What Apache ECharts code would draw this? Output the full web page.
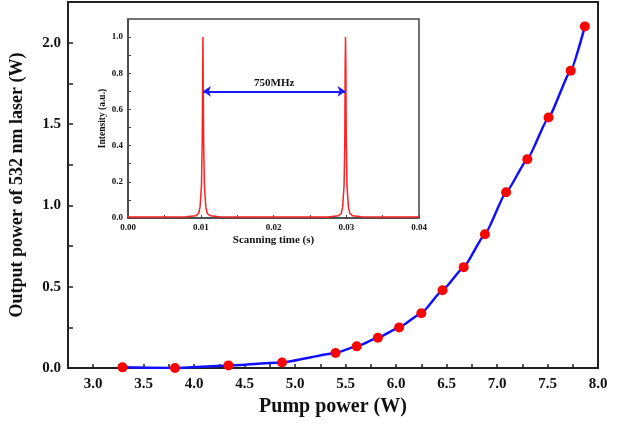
<!DOCTYPE html>
<html>
<head>
<meta charset="utf-8">
<script src="https://cdn.jsdelivr.net/npm/echarts@6/dist/echarts.min.js"></script>
<style>
  html, body { margin: 0; padding: 0; background: #fff; }
  #chart { width: 621px; height: 425px; }
</style>
</head>
<body>
<div id="chart"></div>
<script>
// main plot: pump power vs 532 nm output
const pumpPower = [3.29, 3.81, 4.34, 4.87, 5.40, 5.61, 5.82, 6.03, 6.25, 6.46, 6.67, 6.88, 7.09, 7.30, 7.51, 7.73, 7.87];
const outputPower = [0.004, 0.0, 0.016, 0.034, 0.092, 0.133, 0.186, 0.249, 0.337, 0.478, 0.62, 0.822, 1.08, 1.284, 1.54, 1.828, 2.10];

// inset: scanning F-P trace
const scanTime = [0, 0.004, 0.008, 0.0093, 0.0097, 0.0099, 0.0101, 0.0102, 0.01025, 0.0103, 0.01035, 0.0104, 0.0105, 0.0107, 0.0109, 0.0113, 0.0125, 0.016, 0.02, 0.024, 0.0275, 0.0289, 0.0293, 0.0295, 0.0297, 0.0298, 0.02985, 0.0299, 0.02995, 0.03, 0.0301, 0.0303, 0.0305, 0.0309, 0.032, 0.036, 0.04];
const intensity = [0.006, 0.005, 0.007, 0.012, 0.025, 0.06, 0.18, 0.42, 0.7, 1.0, 0.7, 0.42, 0.18, 0.06, 0.025, 0.012, 0.007, 0.005, 0.006, 0.005, 0.006, 0.012, 0.025, 0.06, 0.18, 0.42, 0.82, 1.0, 0.82, 0.42, 0.18, 0.06, 0.025, 0.012, 0.007, 0.005, 0.006];
const arrowFrom = [0.0103, 0.7];
const arrowTo = [0.0299, 0.7];
const arrowText = '750MHz';

const serif = 'Liberation Serif';
const dark = '#222';

const chart = echarts.init(document.getElementById('chart'));

function half(v) { return Math.abs(v * 2 - Math.round(v * 2)) < 1e-6 ? v.toFixed(1) : ''; }

chart.setOption({
  backgroundColor: '#fff',
  animation: false,
  grid: [
    { left: 68, top: 2, width: 530, height: 366, show: true, borderColor: dark, borderWidth: 2, backgroundColor: 'transparent' },
    { left: 128, top: 19, width: 291, height: 199, show: true, borderColor: '#444', borderWidth: 1.5, backgroundColor: '#fff' }
  ],
  xAxis: [
    {
      gridIndex: 0, type: 'value', min: 2.75, max: 8.0, interval: 0.25,
      name: 'Pump power (W)', nameLocation: 'middle', nameGap: 29,
      nameTextStyle: { fontFamily: serif, fontWeight: 'bold', fontSize: 20, color: '#111' },
      axisLine: { lineStyle: { color: dark, width: 2 } },
      axisTick: { inside: true, length: 4, lineStyle: { color: dark, width: 1.5 } },
      axisLabel: { formatter: half, fontFamily: serif, fontWeight: 'bold', fontSize: 15, color: '#111', margin: 9 },
      splitLine: { show: false }
    },
    {
      gridIndex: 1, type: 'value', min: 0, max: 0.04, interval: 0.005,
      name: 'Scanning time (s)', nameLocation: 'middle', nameGap: 17,
      nameTextStyle: { fontFamily: serif, fontWeight: 'bold', fontSize: 11, color: '#111' },
      axisLine: { lineStyle: { color: '#444', width: 1.5 } },
      axisTick: { inside: true, length: 3, lineStyle: { color: '#444' } },
      axisLabel: {
        formatter: v => (Math.abs(v * 100 - Math.round(v * 100)) < 1e-6 ? v.toFixed(2) : ''),
        fontFamily: serif, fontWeight: 'bold', fontSize: 9, color: '#111', margin: 5
      },
      splitLine: { show: false }
    }
  ],
  yAxis: [
    {
      gridIndex: 0, type: 'value', min: 0, max: 2.25, interval: 0.25,
      name: 'Output power of 532 nm laser (W)', nameLocation: 'middle', nameGap: 42,
      nameTextStyle: { fontFamily: serif, fontWeight: 'bold', fontSize: 18, color: '#111' },
      axisLine: { show: true, lineStyle: { color: dark, width: 2 } },
      axisTick: { show: true, inside: true, length: 5, lineStyle: { color: dark, width: 1.5 } },
      axisLabel: { formatter: half, showMaxLabel: false, fontFamily: serif, fontWeight: 'bold', fontSize: 15, color: '#111', margin: 7 },
      splitLine: { show: false }
    },
    {
      gridIndex: 1, type: 'value', min: 0, max: 1.1, interval: 0.1,
      name: 'Intensity (a.u.)', nameLocation: 'middle', nameGap: 20,
      nameTextStyle: { fontFamily: serif, fontWeight: 'bold', fontSize: 9.5, color: '#111' },
      axisLine: { show: true, lineStyle: { color: '#444', width: 1.5 } },
      axisTick: { show: true, inside: true, length: 3, lineStyle: { color: '#444' } },
      axisLabel: {
        formatter: v => (Math.abs(v * 5 - Math.round(v * 5)) < 1e-6 ? v.toFixed(1) : ''),
        showMaxLabel: false, fontFamily: serif, fontWeight: 'bold', fontSize: 9, color: '#111', margin: 5
      },
      splitLine: { show: false }
    }
  ],
  series: [
    {
      type: 'line', xAxisIndex: 0, yAxisIndex: 0,
      data: pumpPower.map((x, i) => [x, outputPower[i]]),
      smooth: 0.15, smoothMonotone: 'x',
      symbol: 'circle', symbolSize: 10,
      itemStyle: { color: '#ff0000' },
      lineStyle: { color: '#1010ff', width: 2.5 },
      z: 3
    },
    {
      type: 'line', xAxisIndex: 1, yAxisIndex: 1,
      data: scanTime.map((t, i) => [t, intensity[i]]),
      showSymbol: false,
      lineStyle: { color: '#ff2020', width: 1.5 },
      markLine: {
        silent: true,
        symbol: ['arrow', 'arrow'], symbolSize: [8, 8],
        lineStyle: { color: '#1a1aff', width: 2, type: 'solid' },
        label: {
          show: true, position: 'insideMiddleTop', formatter: arrowText, distance: 3,
          fontFamily: serif, fontWeight: 'bold', fontSize: 11, color: '#111'
        },
        data: [[{ coord: arrowFrom }, { coord: arrowTo }]]
      }
    }
  ]
});
</script>
</body>
</html>
